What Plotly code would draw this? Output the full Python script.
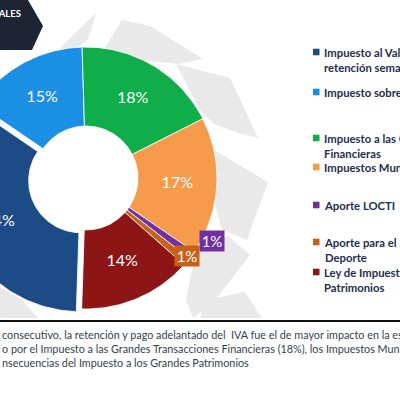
import numpy as np
import plotly.graph_objects as go

# ---------------- data ----------------
categories = [
    "Impuesto al Valor Agregado<br>retención semanal",
    "Impuesto sobre la Renta",
    "Impuesto a las Grandes Transacciones<br>Financieras",
    "Impuestos Municipales",
    "Aporte LOCTI",
    "Aporte para el Fondo Nacional del<br>Deporte",
    "Ley de Impuesto a los Grandes<br>Patrimonios",
]
values = [34, 15, 18, 17, 1, 1, 14]
colors = ["#1d4b86", "#1a8fe3", "#0fae4b", "#f69a4c", "#7030a0", "#c8601a", "#8e1515"]
pull = [6, 0, 0, 0, 0, 0, 0]          # px offset of exploded slice

body_lines = [
    "consecutivo, la retención y pago adelantado del  IVA fue el de mayor impacto en la estructura de costos",
    "o por el Impuesto a las Grandes Transacciones Financieras (18%), los Impuestos Municipales (17%)",
    "nsecuencias del Impuesto a los Grandes Patrimonios",
]
header_text = "FISCALES"

# ---------------- layout parameters ----------------
W, H = 400, 394
CX, CY = 86, 178
R_OUT, R_IN = 131, 52
ROTATION = 181.9          # start angle of first slice, clockwise from 12 o'clock
legend_y = [52, 92, 138, 167, 205, 242, 272]
small_label_pos = {4: (212, 241), 5: (187, 267)}
FONT = "Lato"

fig = go.Figure()

total = float(sum(values))
angle = ROTATION
label_x, label_y, label_t = [], [], []
for i, v in enumerate(values):
    a0 = angle
    a1 = angle + v / total * 360.0
    angle = a1
    mid = np.radians((a0 + a1) / 2)
    ox, oy = pull[i] * np.sin(mid), -pull[i] * np.cos(mid)
    t_out = np.radians(np.linspace(a0, a1, 80))
    t_in = t_out[::-1]
    xs = np.concatenate([CX + ox + R_OUT * np.sin(t_out), CX + ox + R_IN * np.sin(t_in)])
    ys = np.concatenate([CY + oy - R_OUT * np.cos(t_out), CY + oy - R_IN * np.cos(t_in)])
    xs = np.append(xs, xs[0]); ys = np.append(ys, ys[0])
    fig.add_trace(go.Scatter(x=xs, y=ys, mode="lines", fill="toself",
                             fillcolor=colors[i], line=dict(color="white", width=0.8),
                             hoverinfo="skip", showlegend=False))
    txt = f"{v:.0f}%"
    if i in small_label_pos:
        px, py = small_label_pos[i]
        fig.add_annotation(x=px / W, y=1 - py / H, xref="paper", yref="paper",
                           text=txt, showarrow=False, bgcolor=colors[i],
                           font=dict(family=FONT, size=15, color="white"),
                           borderpad=1, width=22, height=18)
    else:
        rm = (R_OUT + R_IN) / 2 + pull[i]
        label_x.append(CX + rm * np.sin(mid))
        label_y.append(CY - rm * np.cos(mid))
        label_t.append(txt)

fig.add_trace(go.Scatter(x=label_x, y=label_y, text=label_t, mode="text",
                         textfont=dict(family=FONT, size=16, color="white"),
                         hoverinfo="skip", showlegend=False))

# legend (squares + bold text)
for i, cat in enumerate(categories):
    y = legend_y[i]
    fig.add_shape(type="rect", xref="x", yref="y", x0=313, x1=319.5, y0=y - 3.3, y1=y + 3.3,
                  fillcolor=colors[i], line=dict(width=0))
    fig.add_annotation(x=322 / W, y=1 - (y - 7.8) / H, xref="paper", yref="paper",
                       xanchor="left", yanchor="top", align="left", showarrow=False,
                       text="<b>" + cat.replace("<br>", "</b><br><b>") + "</b>",
                       font=dict(family=FONT, size=11.3, color="#1f2d50"))

# background decoration (light gray arrows)
gray = "#e9e9ea"
polys = [
    [(58, 50), (96, 13), (88, 40), (70, 52)],
    [(102, 52), (122, 20), (150, 26), (203, 59), (178, 64), (120, 58)],
    [(176, 64), (230, 78), (258, 138), (238, 133), (214, 124), (200, 110)],
    [(214, 150), (268, 182), (247, 240), (222, 230), (214, 200)],
    [(196, 248), (228, 236), (250, 255), (215, 300), (193, 318), (186, 300)],
    [(0, 287), (22, 300), (38, 318), (0, 318)],
    [(205, 300), (245, 292), (262, 318), (200, 318)],
]
for p in polys:
    path = "M " + " L ".join(f"{x},{y}" for x, y in p) + " Z"
    fig.add_shape(type="path", path=path, xref="x", yref="y", fillcolor=gray,
                  line=dict(width=0), layer="below")

# header box
fig.add_shape(type="path", path="M 0,0 L 28,0 L 43,26 L 32,50 L 0,50 Z",
              xref="x", yref="y", fillcolor="#1e2433", line=dict(width=0))
fig.add_annotation(x=23 / W, y=1 - 13 / H, xref="paper", yref="paper",
                   xanchor="right", yanchor="middle", showarrow=False,
                   text="<b>" + header_text + "</b>",
                   font=dict(family=FONT, size=9.5, color="white"))

# separator line
fig.add_shape(type="line", xref="paper", yref="y", x0=0, x1=1, y0=321, y1=321,
              line=dict(color="#111111", width=2))

# body text
for k, line in enumerate(body_lines):
    fig.add_annotation(x=0, y=1 - (334 + 14 * k) / H, xref="paper", yref="paper",
                       xanchor="left", yanchor="middle", showarrow=False, text=line,
                       font=dict(family=FONT, size=10.8, color="#333f4f"))

fig.update_layout(
    width=W, height=H, margin=dict(l=0, r=0, t=0, b=0),
    paper_bgcolor="white", plot_bgcolor="white",
    xaxis=dict(range=[0, W], visible=False, fixedrange=True),
    yaxis=dict(range=[H, 0], visible=False, fixedrange=True),
    showlegend=False,
)
fig.write_html("out.html", config={"displayModeBar": False, "staticPlot": True},
               post_script="document.body.style.margin='0';document.body.style.overflow='hidden';")
